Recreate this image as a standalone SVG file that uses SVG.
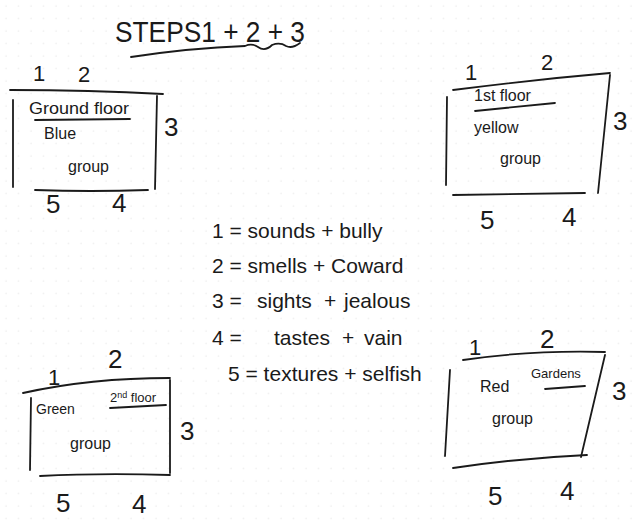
<svg xmlns="http://www.w3.org/2000/svg" width="632" height="520" viewBox="0 0 632 520">
<style>
.ln{fill:none;stroke:#1a1a1a;stroke-width:1.8;stroke-linecap:round;stroke-linejoin:round}
.t{font-family:"Liberation Sans",Arial,sans-serif;fill:#1a1a1a}
.num{font-size:26px}
.sm{font-size:22px}
.lbl{font-size:16px}
.lg{font-size:21px}
</style>
<defs>
<pattern id="dots" width="12.5" height="12.5" patternUnits="userSpaceOnUse">
<circle cx="6" cy="6" r="0.7" fill="#e6e6e6"/>
</pattern>
</defs>
<rect width="632" height="520" fill="#fff"/>
<rect width="632" height="520" fill="url(#dots)"/>

<g id="title">
<text class="t" x="115" y="42" font-size="29" textLength="190" lengthAdjust="spacingAndGlyphs">STEPS1 + 2 + 3</text>
<path class="ln" d="M131,57 Q190,48 245,46 Q252,43 258,47 Q265,52 272,45 Q280,42 286,46 Q292,49 300,43"/>
</g>

<g id="ground-floor">
<path class="ln" d="M10,90 Q90,90 163,94"/>
<path class="ln" d="M13,100 L13,187"/>
<path class="ln" d="M157,96 L155,189"/>
<path class="ln" d="M35,190 Q90,192 148,190"/>
<text class="t sm" x="33" y="81">1</text>
<text class="t sm" x="78" y="82">2</text>
<text class="t num" x="164" y="136">3</text>
<text class="t num" x="46" y="213">5</text>
<text class="t num" x="112" y="212">4</text>
<text class="t lbl" x="29" y="114" textLength="100" lengthAdjust="spacingAndGlyphs">Ground floor</text>
<path class="ln" d="M35,120 L130,119"/>
<text class="t lbl" x="44" y="139">Blue</text>
<text class="t lbl" x="68" y="172">group</text>
</g>

<g id="first-floor">
<path class="ln" d="M453,90 Q530,80 610,73"/>
<path class="ln" d="M610,75 L598,193"/>
<path class="ln" d="M447,97 L446,185"/>
<path class="ln" d="M453,195 L585,193"/>
<text class="t sm" x="465" y="80">1</text>
<text class="t sm" x="541" y="70">2</text>
<text class="t num" x="613" y="130">3</text>
<text class="t num" x="480" y="229">5</text>
<text class="t num" x="562" y="226">4</text>
<text class="t lbl" x="474" y="101">1st floor</text>
<path class="ln" d="M475,111 L555,103"/>
<text class="t lbl" x="474" y="133">yellow</text>
<text class="t lbl" x="500" y="164">group</text>
</g>

<g id="second-floor">
<path class="ln" d="M23,393 Q90,378 170,378"/>
<path class="ln" d="M170,380 L170,473"/>
<path class="ln" d="M31,398 L30,470"/>
<path class="ln" d="M40,476 Q100,473 170,475"/>
<text class="t sm" x="48" y="385">1</text>
<text class="t num" x="108" y="368">2</text>
<text class="t num" x="180" y="440">3</text>
<text class="t num" x="56" y="512">5</text>
<text class="t num" x="132" y="513">4</text>
<text class="t" x="36" y="414" font-size="14">Green</text>
<text class="t" x="110" y="402" font-size="13">2<tspan font-size="9" dy="-4">nd</tspan><tspan dy="4"> floor</tspan></text>
<path class="ln" d="M110,408 L166,405"/>
<text class="t lbl" x="70" y="449">group</text>
</g>

<g id="gardens">
<path class="ln" d="M463,360 Q530,350 605,352"/>
<path class="ln" d="M605,355 L581,457"/>
<path class="ln" d="M450,370 L445,456"/>
<path class="ln" d="M453,468 Q520,458 587,455"/>
<text class="t sm" x="469" y="355">1</text>
<text class="t num" x="540" y="348">2</text>
<text class="t num" x="612" y="400">3</text>
<text class="t num" x="488" y="505">5</text>
<text class="t num" x="560" y="500">4</text>
<text class="t" x="531" y="378" font-size="13">Gardens</text>
<path class="ln" d="M545,389 L585,386"/>
<text class="t lbl" x="480" y="392">Red</text>
<text class="t lbl" x="492" y="424">group</text>
</g>

<g id="legend">
<text class="t lg" x="212" y="238">1 = sounds + bully</text>
<text class="t lg" x="212" y="273">2 = smells + Coward</text>
<text class="t lg" y="308"><tspan x="212">3 =</tspan><tspan x="257">sights</tspan><tspan x="324">+</tspan><tspan x="344">jealous</tspan></text>
<text class="t lg" y="345"><tspan x="212">4 =</tspan><tspan x="274">tastes</tspan><tspan x="342">+</tspan><tspan x="364">vain</tspan></text>
<text class="t lg" x="228" y="381">5 = textures + selfish</text>
</g>

<g id="connectors"></g>
</svg>
